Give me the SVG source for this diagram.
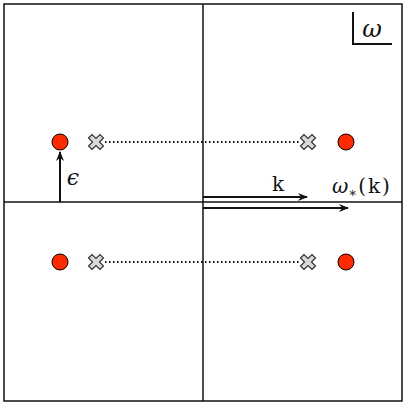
<svg xmlns="http://www.w3.org/2000/svg" width="405" height="407" viewBox="0 0 405 407">
<style>
.ln{stroke:#111;stroke-width:1.5;fill:none}
.dot{fill:#ff2a00;stroke:#000;stroke-width:1}
.x{fill:#d9d9d9;stroke:#333;stroke-width:1.2}
.dots{stroke:#111;stroke-width:2;stroke-dasharray:1.5 2.5;fill:none}
.arr{stroke:#111;stroke-width:2;fill:none}
.t{font-family:"DejaVu Serif","Liberation Serif",serif;fill:#111}
</style>
<defs>
<marker id="ah" markerWidth="10" markerHeight="8" refX="9" refY="4" orient="auto" markerUnits="userSpaceOnUse">
<path d="M0,0 L10,4 L0,8 L3,4 Z" fill="#111"/>
</marker>
<path id="cross" d="M-7.5,-4 L-4,-7.5 L0,-3.5 L4,-7.5 L7.5,-4 L3.5,0 L7.5,4 L4,7.5 L0,3.5 L-4,7.5 L-7.5,4 L-3.5,0 Z"/>
</defs>
<rect x="0" y="0" width="405" height="407" fill="#fff"/>
<g id="frame">
<rect x="4" y="4" width="398" height="397" class="ln"/>
<line x1="203" y1="4" x2="203" y2="401" class="ln"/>
<line x1="4" y1="202" x2="402" y2="202" class="ln"/>
</g>
<g id="omega-label">
<path d="M353,12 L353,44 L392,44" stroke="#111" stroke-width="2" fill="none"/>
<text x="372" y="37" class="t" font-size="24" font-style="italic" text-anchor="middle">ω</text>
</g>
<g id="connectors">
<line x1="105" y1="142" x2="299" y2="142" class="dots"/>
<line x1="105" y1="262" x2="299" y2="262" class="dots"/>
<line x1="60" y1="202" x2="60" y2="152" class="arr" marker-end="url(#ah)"/>
<line x1="203" y1="197" x2="307" y2="197" class="arr" marker-end="url(#ah)"/>
<line x1="203" y1="208" x2="348" y2="208" class="arr" marker-end="url(#ah)"/>
</g>
<g id="poles">
<circle cx="60" cy="142" r="8" class="dot"/>
<circle cx="346" cy="142" r="8" class="dot"/>
<circle cx="60" cy="262" r="8" class="dot"/>
<circle cx="346" cy="262" r="8" class="dot"/>
</g>
<g id="zeros">
<use href="#cross" x="96" y="142" class="x"/>
<use href="#cross" x="308" y="142" class="x"/>
<use href="#cross" x="96" y="262" class="x"/>
<use href="#cross" x="308" y="262" class="x"/>
</g>
<g id="labels">
<text x="73" y="185" class="t" font-size="22" font-style="italic" text-anchor="middle">ϵ</text>
<text x="278" y="191" class="t" font-size="20" text-anchor="middle">k</text>
<text x="332" y="193" class="t" font-size="20"><tspan font-style="italic">ω</tspan><tspan font-size="13" dy="4">∗</tspan><tspan dy="-4" dx="1" letter-spacing="2">(k)</tspan></text>
</g>
</svg>
